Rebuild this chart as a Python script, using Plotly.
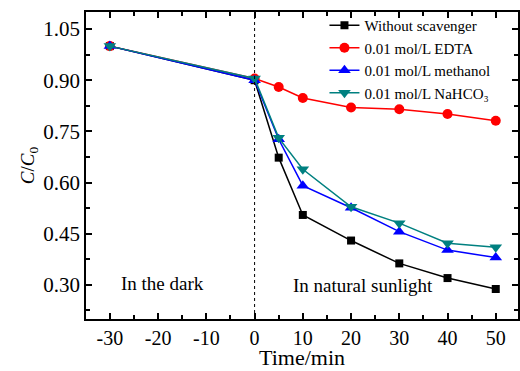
import plotly.graph_objects as go

time = [-30, 0, 5, 10, 20, 30, 40, 50]
without_scavenger = [1.00, 0.900, 0.673, 0.505, 0.430, 0.363, 0.320, 0.288]
edta = [1.00, 0.905, 0.880, 0.848, 0.820, 0.815, 0.801, 0.781]
methanol = [1.00, 0.900, 0.727, 0.591, 0.526, 0.456, 0.402, 0.380]
nahco3 = [1.00, 0.905, 0.731, 0.639, 0.529, 0.481, 0.422, 0.410]

series = [
    ("Without scavenger", without_scavenger, "#000000", "square", 8),
    ("0.01 mol/L EDTA", edta, "#ff0000", "circle", 10),
    ("0.01 mol/L methanol", methanol, "#0000ff", "triangle-up", 11),
    ("0.01 mol/L NaHCO₃", nahco3, "#008080", "triangle-down", 11),
]

FONT = "Liberation Serif"

fig = go.Figure()
for name, ys, color, sym, size in series:
    fig.add_trace(go.Scatter(
        x=time, y=ys, name=name, mode="lines+markers",
        line=dict(color=color, width=1.5),
        marker=dict(symbol=sym, size=size, color=color),
    ))

fig.add_shape(type="line", x0=0, x1=0, y0=0, y1=1, xref="x", yref="paper",
              line=dict(color="black", width=1, dash="dot"))

fig.add_annotation(x=-19, y=0.305, text="In the dark", showarrow=False,
                   font=dict(family=FONT, size=19, color="black"))
fig.add_annotation(x=22.5, y=0.298, text="In natural sunlight", showarrow=False,
                   font=dict(family=FONT, size=19, color="black"))
# x-axis title placed as annotation to sit just below the tick labels
fig.add_annotation(x=0.5, y=-0.126, xref="paper", yref="paper", text="Time/min",
                   showarrow=False, xanchor="center", yanchor="middle",
                   font=dict(family=FONT, size=22, color="black"))

axis_common = dict(
    showline=True, linecolor="black", linewidth=1.5, mirror="ticks",
    ticks="inside", ticklen=6, tickwidth=1.5, tickcolor="black",
    showgrid=False, zeroline=False,
    tickfont=dict(family=FONT, size=21, color="black"),
)

fig.update_xaxes(
    range=[-34.95, 54.61], tickmode="array",
    tickvals=[-30, -20, -10, 0, 10, 20, 30, 40, 50],
    ticktext=["-30", "-20", "-10", "0", "10", "20", "30", "40", "50"],
    minor=dict(ticks="inside", ticklen=4, tickwidth=1.5, tickcolor="black", dtick=5, tick0=0),
    automargin=False,
    tickfont_size=20,
    **{k: v for k, v in axis_common.items() if k != "tickfont"},
    tickfont_family=FONT, tickfont_color="black",
)
fig.update_yaxes(
    range=[0.2, 1.1], tick0=0.30, dtick=0.15, tickformat=".2f",
    minor=dict(ticks="inside", ticklen=4, tickwidth=1.5, tickcolor="black", dtick=0.075, tick0=0.225),
    title=dict(text="<i>C</i>/<i>C</i><sub>0</sub>", font=dict(family=FONT, size=19, color="black"), standoff=4),
    **axis_common,
)

fig.update_layout(
    width=520, height=371,
    margin=dict(l=86, r=0, t=12, b=52),
    paper_bgcolor="white", plot_bgcolor="white",
    font=dict(family=FONT, color="black"),
    showlegend=True,
    legend=dict(x=0.552, y=1.01, xanchor="left", yanchor="top",
                bgcolor="rgba(0,0,0,0)", font=dict(family=FONT, size=15, color="black"),
                tracegroupgap=0, itemwidth=30),
)

fig.write_html("out.html")
